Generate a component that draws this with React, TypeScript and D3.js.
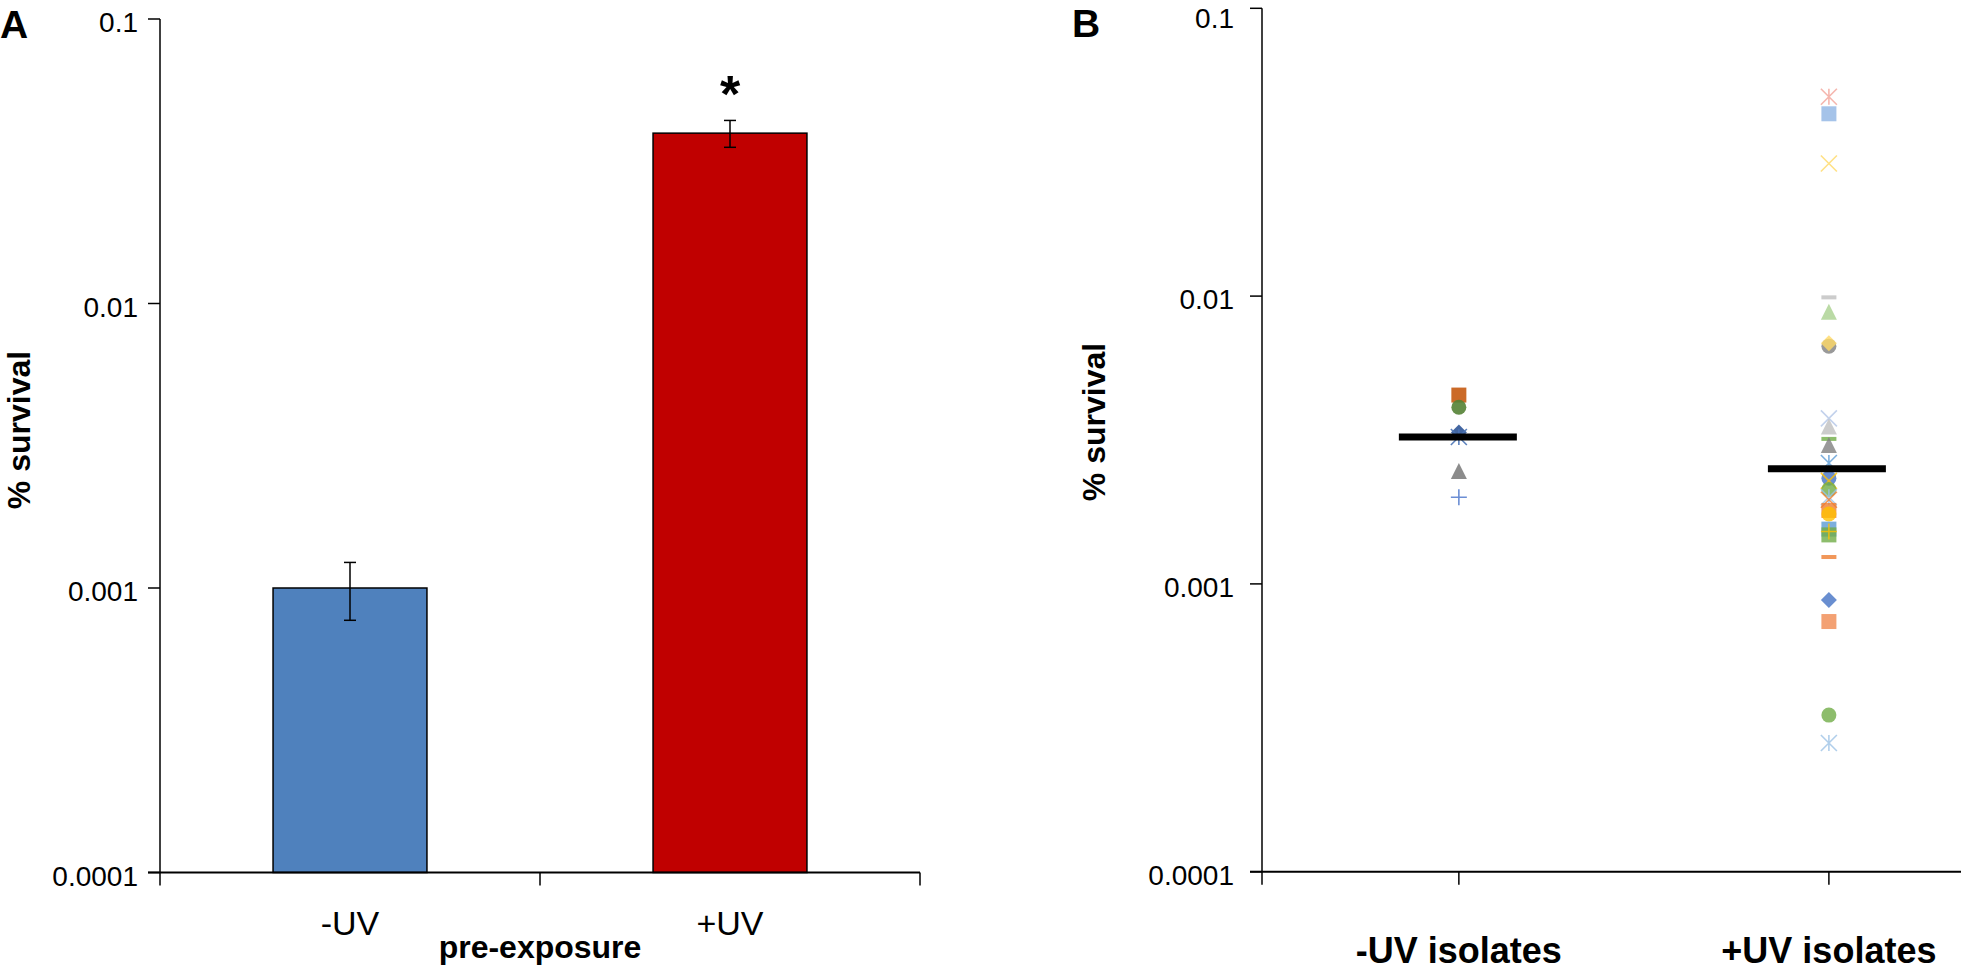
import React from "react";
import * as d3 from "d3";

// ---------- Data ----------
const yTickValues = [0.0001, 0.001, 0.01, 0.1];
const yTickLabels = ["0.0001", "0.001", "0.01", "0.1"];

// Panel A
const barCategories = ["-UV", "+UV"];
const barValues = [0.001, 0.0397];
const barErrors = [0.00023, 0.0043];
const barColors = ["#4F81BD", "#C00000"];

// Panel B
const isolateCategories = ["-UV isolates", "+UV isolates"];

const minusUVValues = [0.00453, 0.00411, 0.00336, 0.00324, 0.00247, 0.002];
const minusUVShapes = ["square", "circle", "diamond", "asterisk", "triangle", "plus"];
const minusUVColors = ["#C55A11", "#548235", "#2F5597", "#4A73B5", "#7F7F7F", "#5B82CF"];
const minusUVMedian = 0.00324;

const plusUVValues = [
  0.0493, 0.043, 0.0289, 0.0099, 0.00883, 0.0067, 0.00686, 0.00376, 0.00352, 0.00319,
  0.00304, 0.00263, 0.00233, 0.00228, 0.00213, 0.002, 0.00196, 0.0018, 0.00175, 0.00155,
  0.00148, 0.00152, 0.00124, 0.00088, 0.00074, 0.00035, 0.00028,
];
const plusUVShapes = [
  "asterisk", "square", "x", "dash", "triangle", "circle", "diamond", "x", "triangle", "dash",
  "triangle", "asterisk", "circle", "x", "circle", "asterisk", "x", "square", "circle", "square",
  "square", "plus", "dash", "diamond", "square", "circle", "asterisk",
];
const plusUVColors = [
  "#F2A49A", "#8EB4E3", "#FFD966", "#BFBFBF", "#A9D18E", "#7F7F7F", "#FFD966", "#B4C7E7", "#BFBFBF", "#70AD47",
  "#7F7F7F", "#5B9BD5", "#4472C4", "#FFC000", "#70AD47", "#9DC3E6", "#ED7D31", "#ED7D31", "#FFC000", "#5B9BD5",
  "#70AD47", "#FFC000", "#ED7D31", "#4472C4", "#F08A50", "#70AD47", "#9DC3E6",
];
const plusUVMedian = 0.00251;

const FONT = "'Liberation Sans', Arial, sans-serif";

// ---------- marker helper ----------
function Marker({ shape, x, y, color, opacity }: { shape: string; x: number; y: number; color: string; opacity: number }) {
  const h = 8;
  const sw = 1.6;
  switch (shape) {
    case "square":
      return <rect x={x - 7.5} y={y - 7.5} width={15} height={15} fill={color} opacity={opacity} />;
    case "circle":
      return <circle cx={x} cy={y} r={7.5} fill={color} opacity={opacity} />;
    case "diamond":
      return <path d={`M${x},${y - h}L${x + h},${y}L${x},${y + h}L${x - h},${y}Z`} fill={color} opacity={opacity} />;
    case "triangle":
      return <path d={`M${x},${y - h}L${x + h},${y + h}L${x - h},${y + h}Z`} fill={color} opacity={opacity} />;
    case "dash":
      return <rect x={x - 7.5} y={y - 2} width={15} height={4} fill={color} opacity={opacity} />;
    case "plus":
      return (
        <path d={`M${x - h},${y}L${x + h},${y}M${x},${y - h}L${x},${y + h}`} stroke={color} strokeWidth={sw} fill="none" opacity={opacity} />
      );
    case "x":
      return (
        <path d={`M${x - h},${y - h}L${x + h},${y + h}M${x - h},${y + h}L${x + h},${y - h}`} stroke={color} strokeWidth={sw} fill="none" opacity={opacity} />
      );
    case "asterisk":
      return (
        <path
          d={`M${x - h},${y - h}L${x + h},${y + h}M${x - h},${y + h}L${x + h},${y - h}M${x},${y - h}L${x},${y + h}`}
          stroke={color}
          strokeWidth={sw}
          fill="none"
          opacity={opacity}
        />
      );
    default:
      return null;
  }
}

export default function App() {
  // ---------- Panel A scales ----------
  const yA = d3.scaleLog().domain([0.0001, 0.1]).range([872.5, 19]);
  const xA = d3.scaleBand<string>().domain(barCategories).range([160, 920]).paddingInner(0.595).paddingOuter(0.2975);
  const stepA = xA.step();

  // ---------- Panel B scales ----------
  const yB = d3.scaleLog().domain([0.0001, 0.1]).range([871.7, 8.3]);
  const xB = d3.scaleLinear().domain([0.468, 2.357]).range([1262, 1961]);

  const axisA = 160;
  const axisB = xB(0.468);

  return (
    <svg width={1961} height={970} style={{ position: "absolute", left: 0, top: 0, background: "#fff" }} fontFamily={FONT}>
      <rect x={0} y={0} width={1961} height={970} fill="#fff" />

      {/* ================= Panel A ================= */}
      <text x={0} y={38} fontSize={39} fontWeight="bold">A</text>

      {/* bars */}
      {barCategories.map((c, i) => {
        const x0 = xA(c)!;
        const w = xA.bandwidth();
        const cx = x0 + w / 2;
        const yTop = yA(barValues[i]);
        const yHi = yA(barValues[i] + barErrors[i]);
        const yLo = yA(barValues[i] - barErrors[i]);
        return (
          <g key={c}>
            <rect x={x0} y={yTop} width={w} height={yA(0.0001) - yTop} fill={barColors[i]} stroke="#000" strokeWidth={1.5} />
            <line x1={cx} x2={cx} y1={yHi} y2={yLo} stroke="#000" strokeWidth={1.5} />
            <line x1={cx - 6} x2={cx + 6} y1={yHi} y2={yHi} stroke="#000" strokeWidth={1.5} />
            <line x1={cx - 6} x2={cx + 6} y1={yLo} y2={yLo} stroke="#000" strokeWidth={1.5} />
          </g>
        );
      })}
      {/* significance */}
      <text x={xA("+UV")! + xA.bandwidth() / 2} y={112} fontSize={52} fontWeight="bold" textAnchor="middle">*</text>

      {/* y axis A */}
      <line x1={axisA} x2={axisA} y1={yA(0.1)} y2={yA(0.0001) + 13} stroke="#000" strokeWidth={1.5} />
      {yTickValues.map((v, i) => (
        <g key={"ya" + i}>
          <line x1={axisA - 12} x2={axisA} y1={yA(v)} y2={yA(v)} stroke="#000" strokeWidth={1.5} />
          <text x={axisA - 22} y={yA(v) + 13} fontSize={28} textAnchor="end">{yTickLabels[i]}</text>
        </g>
      ))}
      {/* x axis A */}
      <line x1={axisA - 12} x2={920} y1={yA(0.0001)} y2={yA(0.0001)} stroke="#000" strokeWidth={2} />
      {[1, 2].map((k) => (
        <line key={"xta" + k} x1={160 + k * stepA} x2={160 + k * stepA} y1={yA(0.0001)} y2={yA(0.0001) + 13} stroke="#000" strokeWidth={1.5} />
      ))}
      {barCategories.map((c) => (
        <text key={"xl" + c} x={xA(c)! + xA.bandwidth() / 2} y={935} fontSize={34} textAnchor="middle">{c}</text>
      ))}
      <text x={160 + stepA} y={958} fontSize={32} fontWeight="bold" textAnchor="middle">pre-exposure</text>
      <text transform={`translate(30,430) rotate(-90)`} fontSize={32} fontWeight="bold" textAnchor="middle">% survival</text>

      {/* ================= Panel B ================= */}
      <text x={1072} y={37} fontSize={39} fontWeight="bold">B</text>

      {/* y axis B */}
      <line x1={axisB} x2={axisB} y1={yB(0.1)} y2={yB(0.0001) + 13} stroke="#000" strokeWidth={1.5} />
      {yTickValues.map((v, i) => (
        <g key={"yb" + i}>
          <line x1={axisB - 12} x2={axisB} y1={yB(v)} y2={yB(v)} stroke="#000" strokeWidth={1.5} />
          <text x={axisB - 28} y={Math.max(yB(v) + 13, 28)} fontSize={28} textAnchor="end">{yTickLabels[i]}</text>
        </g>
      ))}
      {/* x axis B */}
      <line x1={axisB - 12} x2={1961} y1={yB(0.0001)} y2={yB(0.0001)} stroke="#000" strokeWidth={2} />
      {[1, 2].map((k) => (
        <line key={"xtb" + k} x1={xB(k)} x2={xB(k)} y1={yB(0.0001)} y2={yB(0.0001) + 13} stroke="#000" strokeWidth={1.5} />
      ))}
      {isolateCategories.map((c, i) => (
        <text key={"xlb" + c} x={xB(i + 1)} y={963} fontSize={36} fontWeight="bold" textAnchor="middle">{c}</text>
      ))}
      <text transform={`translate(1105,422) rotate(-90)`} fontSize={32} fontWeight="bold" textAnchor="middle">% survival</text>

      {/* points */}
      {minusUVValues.map((v, i) => (
        <Marker key={"m" + i} shape={minusUVShapes[i]} x={xB(1)} y={yB(v)} color={minusUVColors[i]} opacity={0.9} />
      ))}
      {plusUVValues.map((v, i) => (
        <Marker key={"p" + i} shape={plusUVShapes[i]} x={xB(2)} y={yB(v)} color={plusUVColors[i]} opacity={0.8} />
      ))}

      {/* medians */}
      <line x1={xB(1) - 60} x2={xB(1) + 58} y1={yB(minusUVMedian)} y2={yB(minusUVMedian)} stroke="#000" strokeWidth={7} />
      <line x1={xB(2) - 61} x2={xB(2) + 57} y1={yB(plusUVMedian)} y2={yB(plusUVMedian)} stroke="#000" strokeWidth={7} />
    </svg>
  );
}
